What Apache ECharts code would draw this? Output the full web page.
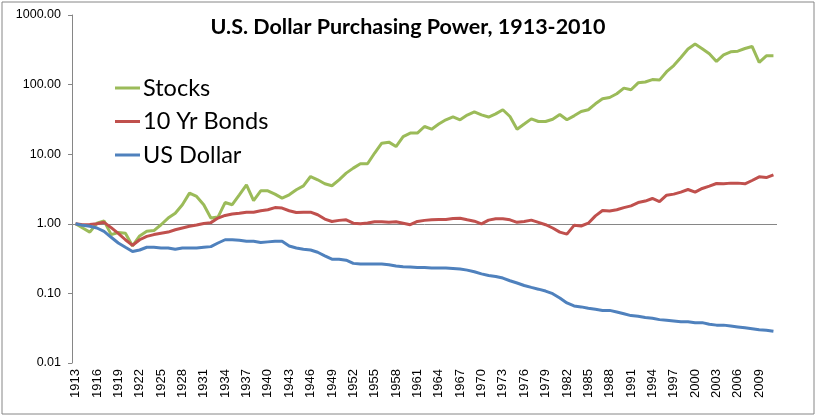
<!DOCTYPE html>
<html>
<head>
<meta charset="utf-8">
<script src="https://cdn.jsdelivr.net/npm/echarts@6/dist/echarts.min.js"></script>
<style>
html,body{margin:0;padding:0;background:#fff;}
#chart{width:816px;height:416px;}
</style>
</head>
<body>
<div id="chart"></div>
<script>
var years = [];
for (var y = 1913; y <= 2011; y++) years.push(String(y));

var stocks = [1.00,0.87,0.76,1.02,1.10,0.70,0.75,0.73,0.48,0.67,
  0.78,0.80,0.97,1.21,1.42,1.88,2.76,2.47,1.88,1.21,
  1.25,2.02,1.88,2.61,3.63,2.16,2.98,2.98,2.67,2.34,
  2.61,3.08,3.51,4.78,4.29,3.76,3.52,4.29,5.35,6.31,
  7.28,7.28,10.4,14.4,14.9,12.9,17.9,20.1,20.1,25.0,
  22.9,27.1,31.2,34.5,31.2,36.5,40.6,36.8,34.2,38.0,
  43.5,34.8,22.9,27.1,32.2,29.5,29.5,31.8,37.2,31.2,
  35.6,41.1,43.5,53.0,62.5,65.3,73.8,89.1,84.2,106,
  109,118,116,153,188,245,324,382,327,277,
  215,268,296,302,330,353,208,259,259];

var bonds = [1.00,0.97,0.98,1.00,1.05,0.88,0.73,0.59,0.49,0.59,
  0.66,0.70,0.73,0.76,0.82,0.87,0.92,0.96,1.01,1.04,
  1.21,1.32,1.38,1.42,1.47,1.47,1.54,1.59,1.71,1.68,
  1.54,1.45,1.47,1.47,1.35,1.17,1.08,1.12,1.14,1.02,
  1.00,1.03,1.07,1.07,1.05,1.07,1.02,0.97,1.08,1.12,
  1.14,1.15,1.15,1.19,1.20,1.14,1.09,1.00,1.13,1.18,
  1.18,1.14,1.05,1.08,1.13,1.05,0.97,0.87,0.76,0.71,
  0.95,0.93,1.02,1.30,1.55,1.53,1.59,1.71,1.81,2.02,
  2.12,2.31,2.09,2.58,2.67,2.85,3.11,2.85,3.22,3.48,
  3.79,3.76,3.84,3.84,3.76,4.19,4.73,4.62,5.05];

var dollar = [1.00,0.95,0.92,0.87,0.78,0.64,0.53,0.46,0.40,0.42,
  0.46,0.46,0.45,0.45,0.43,0.45,0.45,0.45,0.46,0.47,
  0.53,0.59,0.59,0.58,0.56,0.56,0.54,0.55,0.56,0.56,
  0.48,0.45,0.43,0.42,0.39,0.347,0.31,0.31,0.30,0.27,
  0.264,0.264,0.264,0.264,0.258,0.247,0.241,0.240,0.236,0.235,
  0.231,0.231,0.231,0.228,0.224,0.216,0.205,0.191,0.181,0.175,
  0.166,0.152,0.141,0.130,0.122,0.115,0.108,0.099,0.086,0.073,
  0.066,0.064,0.061,0.059,0.057,0.057,0.054,0.051,0.048,0.047,
  0.045,0.044,0.042,0.041,0.040,0.039,0.039,0.038,0.038,0.036,
  0.035,0.035,0.034,0.033,0.032,0.031,0.030,0.0295,0.0285];

var seriesNames = ['Stocks', '10 Yr Bonds', 'US Dollar'];
var seriesColors = ['#9BBB59', '#C0504D', '#4F81BD'];
var titleText = 'U.S. Dollar Purchasing Power, 1913-2010';

var chart = echarts.init(document.getElementById('chart'), null, {renderer: 'canvas'});

function mk(name, data, color, withLine) {
  var s = {
    name: name, type: 'line', data: data, symbol: 'none', showSymbol: false,
    lineStyle: {width: 3, color: color}, itemStyle: {color: color}, z: 3
  };
  if (withLine) {
    s.markLine = {
      silent: true, symbol: 'none', label: {show: false}, z: 1,
      lineStyle: {color: '#868686', width: 1, type: 'solid'},
      data: [{yAxis: 1}]
    };
  }
  return s;
}

chart.setOption({
  animation: false,
  backgroundColor: '#fff',
  title: {
    text: titleText, left: 'center', top: 16, padding: 0,
    textStyle: {fontFamily: 'Lato', fontWeight: 'bold', fontSize: 21.5, color: '#000'}
  },
  legend: {
    orient: 'vertical', left: 115, top: 76, padding: 0,
    itemWidth: 25, itemHeight: 3, itemGap: 9.5,
    icon: 'rect',
    textStyle: {fontFamily: 'Lato', fontSize: 23.5, color: '#000', lineHeight: 24, padding: [0,0,0,-2]},
    data: seriesNames
  },
  grid: {left: 72, right: 39, top: 15, bottom: 53},
  xAxis: {
    type: 'category', data: years, boundaryGap: true,
    axisLine: {show: false}, axisTick: {show: false},
    axisLabel: {interval: 2, rotate: 90, margin: 6, fontFamily: 'Liberation Sans', fontSize: 13, color: '#000'},
    splitLine: {show: false}
  },
  yAxis: {
    type: 'log', logBase: 10, min: 0.01, max: 1000,
    axisLine: {show: true, lineStyle: {color: '#868686', width: 1}},
    axisTick: {show: true, inside: false, length: 4, lineStyle: {color: '#868686'}},
    axisLabel: {margin: 11, fontFamily: 'Liberation Sans', fontSize: 12.5, color: '#000',
      formatter: function (v) { return Number(v).toFixed(2); }},
    splitLine: {show: false}
  },
  graphic: [{
    type: 'rect', shape: {x: 2, y: 2, width: 812, height: 412},
    style: {fill: 'none', stroke: '#868686', lineWidth: 1}, silent: true
  }],
  series: [
    mk(seriesNames[0], stocks, seriesColors[0], true),
    mk(seriesNames[1], bonds, seriesColors[1], false),
    mk(seriesNames[2], dollar, seriesColors[2], false)
  ]
});
</script>
</body>
</html>
